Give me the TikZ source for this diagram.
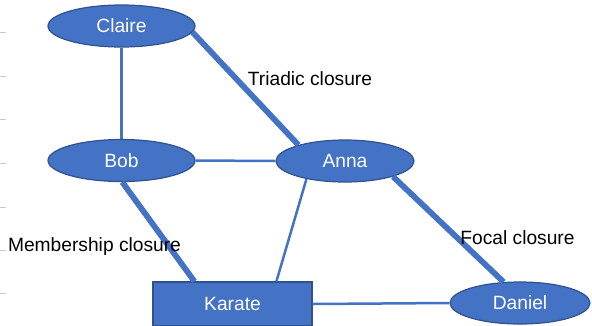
\documentclass[tikz,border=0pt]{standalone}
\usepackage{fontspec}
\setmainfont{Liberation Sans}
\usetikzlibrary{shapes.geometric}
\definecolor{nodeblue}{HTML}{4472C4}
\definecolor{edgeblue}{HTML}{2F528F}
\definecolor{tickgray}{HTML}{C8C8C8}
\begin{document}
\begin{tikzpicture}[x=1pt,y=-1pt,
  person/.style={ellipse,fill=nodeblue,draw=edgeblue,line width=1.2pt,
    inner sep=0pt,text=white,font=\fontsize{19.2}{21}\selectfont},
  club/.style={rectangle,fill=nodeblue,draw=edgeblue,line width=1.2pt,
    inner sep=0pt,text=white,font=\fontsize{19.2}{21}\selectfont},
  tie/.style={draw=nodeblue,line width=2.5pt},
  closure/.style={draw=nodeblue,line width=5.8pt},
  caption/.style={inner sep=0pt,font=\fontsize{19.2}{21}\selectfont},
  tick/.style={draw=tickgray,line width=0.8pt}]
\useasboundingbox (0,0) rectangle (592,325);

% faint ruler ticks along the left edge
\foreach \y in {32,76,119,163,207,250,293}
  \draw[tick] (0,\y) -- (6,\y);

% actors and the club
\node[person,minimum width=147pt,minimum height=42pt] (claire) at (121.5,26) {Claire};
\node[person,minimum width=147pt,minimum height=42pt] (bob) at (121.5,160.5) {Bob};
\node[person,minimum width=138pt,minimum height=42pt] (anna) at (345,161) {Anna};
\node[person,minimum width=140pt,minimum height=42pt] (daniel) at (520,303) {Daniel};
\node[club,minimum width=159pt,minimum height=44pt] (karate) at (232.5,304) {Karate};

% existing ties
\draw[tie] (claire.south) -- (bob.north);
\draw[tie] (bob.east) -- (anna.west);
\draw[tie] (anna.205) -- ([xshift=124pt]karate.north west);
\draw[tie] (karate.east) -- (daniel.west);

% closures
\draw[closure] (claire.-5) -- (anna.161);
\draw[closure] (bob.-88) -- ([xshift=42pt]karate.north west);
\draw[closure] (anna.-18) -- (daniel.128);

% labels
\node[caption] (triadic) at (310,79) {Triadic closure};
\node[caption] (membership) at (94.5,247) {Membership closure};
\node[caption] (focal) at (517.5,238) {Focal closure};
\end{tikzpicture}
\end{document}
